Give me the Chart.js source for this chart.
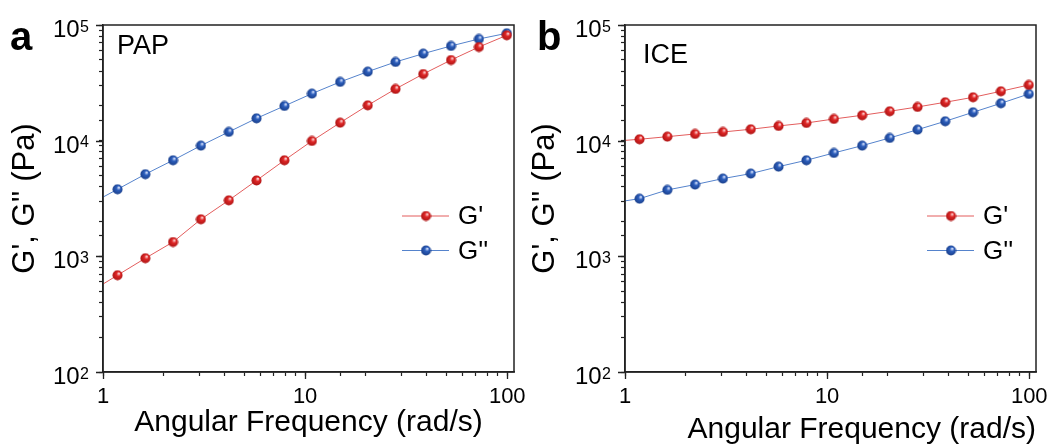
<!DOCTYPE html>
<html>
<head>
<meta charset="utf-8">
<script src="https://cdn.jsdelivr.net/npm/chart.js@4.4.1/dist/chart.umd.min.js"></script>
<style>
  html, body { margin: 0; padding: 0; background: #fff; }
  #wrap { position: relative; width: 1055px; height: 448px; overflow: hidden; }
  #wrap canvas { position: absolute; top: 0; }
  #chartA { left: 0; }
  #chartB { left: 527px; }
</style>
</head>
<body>
<div id="wrap">
  <canvas id="chartA" width="527" height="448"></canvas>
  <canvas id="chartB" width="528" height="448"></canvas>
</div>
<script>
// ---------- Dati ----------
// frequenze angolari (rad/s); il primo punto cade a sinistra dell'asse e viene tagliato
const freq = [0.86, 1.18, 1.62, 2.22, 3.05, 4.19, 5.75, 7.9, 10.8, 14.9, 20.4, 28.0, 38.4, 52.7, 72.4, 99.5];

// PAP
const papStorage = [490, 687, 963, 1330, 2090, 3050, 4530, 6770, 9940, 14300, 20200, 28000, 37700, 49800, 64500, 81500];
const papLoss = [2820, 3800, 5130, 6770, 9060, 11900, 15600, 19950, 25500, 32200, 39500, 47900, 56500, 65900, 75700, 84800];

// ICE
const iceStorage = [9860, 10280, 10830, 11420, 11890, 12550, 13400, 14220, 15400, 16580, 17950, 19560, 21480, 23710, 26730, 30300];
const iceLoss = [2900, 3150, 3750, 4170, 4700, 5190, 5960, 6770, 7830, 9060, 10550, 12450, 14710, 17600, 21040, 25330];

// tick
const xTickLabels = [1, 10, 100];
const yDecades = [100, 1000, 10000, 100000];
const seriesLabels = ["G'", "G''"];

const FONT = '"Liberation Sans", Arial, Helvetica, sans-serif';

// ---------- Utils ----------
const toPoints = (ys) => freq.map((f, i) => ({ x: f, y: ys[i] }));

function makeBall(light, main, dark) {
  const c = document.createElement("canvas");
  c.width = c.height = 11;
  const g = c.getContext("2d");
  const grad = g.createRadialGradient(7, 3.6, 0.3, 5.5, 5.5, 5.5);
  grad.addColorStop(0, light);
  grad.addColorStop(0.35, main);
  grad.addColorStop(1, dark);
  g.fillStyle = grad;
  g.beginPath();
  g.arc(5.5, 5.5, 5, 0, Math.PI * 2);
  g.fill();
  return c;
}

const redBall = makeBall("#ffe0e0", "#e02828", "#a51010");
const blueBall = makeBall("#dfe8ff", "#2d5fbd", "#173b85");

// ---------- Plugin decorazioni (cornice, etichette 10^n, lettere, legenda) ----------
const decor = {
  id: "decor",
  afterDraw(chart, args, opts) {
    const { ctx, chartArea: a } = chart;
    const xs = chart.scales.x;
    const ys = chart.scales.y;
    ctx.save();

    ctx.strokeStyle = "#222";
    ctx.lineWidth = 1.5;
    ctx.strokeRect(a.left, a.top, a.right - a.left, a.bottom - a.top);

    // tick maggiori più lunghi
    ctx.lineWidth = 1.3;
    ctx.beginPath();
    xTickLabels.forEach((v) => {
      const px = Math.round(xs.getPixelForValue(v)) + 0.5;
      ctx.moveTo(px, a.bottom);
      ctx.lineTo(px, a.bottom + 7);
    });
    yDecades.forEach((v) => {
      const py = Math.round(ys.getPixelForValue(v)) + 0.5;
      ctx.moveTo(a.left - 7, py);
      ctx.lineTo(a.left, py);
    });
    ctx.stroke();

    // etichette asse y con esponente
    ctx.fillStyle = "#000";
    ctx.textBaseline = "alphabetic";
    yDecades.forEach((v) => {
      const py = ys.getPixelForValue(v);
      const exp = String(Math.round(Math.log10(v)));
      ctx.font = `16px ${FONT}`;
      const ew = ctx.measureText(exp).width;
      const right = a.left - 14;
      ctx.textAlign = "right";
      ctx.fillText(exp, right, py + 6.5);
      ctx.font = `24px ${FONT}`;
      ctx.fillText("10", right - ew - 0.5, py + 12);
    });

    ctx.textAlign = "left";
    ctx.font = `bold 40px ${FONT}`;
    ctx.fillText(opts.letter, opts.letterX, opts.letterY);
    ctx.font = `27px ${FONT}`;
    ctx.fillText(opts.sample, opts.sampleX, opts.sampleY);

    // legenda
    chart.data.datasets.forEach((ds, i) => {
      const y = opts.legendY + i * 34.5;
      ctx.strokeStyle = ds.borderColor;
      ctx.lineWidth = ds.borderWidth;
      ctx.beginPath();
      ctx.moveTo(opts.legendX, y);
      ctx.lineTo(opts.legendX + 47, y);
      ctx.stroke();
      const img = ds.pointStyle;
      ctx.drawImage(img, opts.legendX + 24 - img.width / 2, y - img.height / 2);
      ctx.fillStyle = "#000";
      ctx.font = `26px ${FONT}`;
      ctx.textBaseline = "middle";
      ctx.fillText(ds.label, opts.legendX + 56, y + 1);
    });

    ctx.restore();
  },
};

// ---------- Costruzione pannello ----------
function makePanel(canvasId, storage, loss, cfg) {
  const datasets = [
    {
      label: seriesLabels[0],
      data: toPoints(storage),
      borderColor: "#e35d5d",
      borderWidth: 1,
      pointStyle: redBall,
      pointRadius: 5,
      clip: 0,
    },
    {
      label: seriesLabels[1],
      data: toPoints(loss),
      borderColor: "#5583cc",
      borderWidth: 1,
      pointStyle: blueBall,
      pointRadius: 5,
      clip: 0,
    },
  ];

  return new Chart(document.getElementById(canvasId), {
    type: "line",
    data: { datasets },
    plugins: [decor],
    options: {
      responsive: false,
      animation: false,
      events: [],
      layout: { padding: { left: 0, right: cfg.padRight, top: 25, bottom: 0 } },
      elements: { line: { tension: 0 } },
      plugins: {
        legend: { display: false },
        tooltip: { enabled: false },
        decor: cfg.decor,
      },
      scales: {
        x: {
          type: "logarithmic",
          min: 1,
          max: 108,
          afterBuildTicks: (s) => {
            s.ticks = s.ticks.filter((t) => t.value <= 100);
          },
          afterFit: (s) => {
            s.height = 76;
            s.paddingLeft = 0;
            s.paddingRight = 0;
          },
          grid: { display: true, drawOnChartArea: false, drawTicks: true, tickLength: 4, tickColor: "#222", tickWidth: 1.2 },
          border: { color: "#222", width: 1.5 },
          ticks: {
            autoSkip: false,
            maxRotation: 0,
            padding: 8,
            color: "#000",
            font: { family: FONT, size: 22 },
            callback: (v) => (xTickLabels.includes(v) ? String(v) : ""),
          },
          title: {
            display: true,
            text: "Angular Frequency (rad/s)",
            color: "#000",
            align: cfg.xTitleAlign,
            font: { family: FONT, size: 30 },
            padding: { top: 0, bottom: cfg.xTitlePad },
          },
        },
        y: {
          type: "logarithmic",
          min: 100,
          max: 100000,
          afterFit: (s) => {
            s.width = cfg.yWidth;
            s.paddingTop = 0;
            s.paddingBottom = 0;
          },
          grid: { display: true, drawOnChartArea: false, drawTicks: true, tickLength: 4, tickColor: "#222", tickWidth: 1.2 },
          border: { color: "#222", width: 1.5 },
          ticks: {
            autoSkip: false,
            padding: 10,
            // le etichette 10^n sono disegnate dal plugin
            callback: () => "",
          },
          title: {
            display: true,
            text: "G', G'' (Pa)",
            color: "#000",
            font: { family: FONT, size: 31 },
            padding: { top: cfg.yTitlePad, bottom: 0 },
          },
        },
      },
    },
  });
}

// ---------- Boot ----------
makePanel("chartA", papStorage, papLoss, {
  padRight: 13,
  yWidth: 103,
  xTitleAlign: "center",
  xTitlePad: 7,
  yTitlePad: 7,
  decor: { letter: "a", letterX: 10, letterY: 50, sample: "PAP", sampleX: 117, sampleY: 54, legendX: 402, legendY: 216 },
});

makePanel("chartB", iceStorage, iceLoss, {
  padRight: 19,
  yWidth: 98,
  xTitleAlign: "end",
  xTitlePad: 0,
  yTitlePad: 0,
  decor: { letter: "b", letterX: 10, letterY: 50, sample: "ICE", sampleX: 116, sampleY: 63, legendX: 400, legendY: 216 },
});
</script>
</body>
</html>
